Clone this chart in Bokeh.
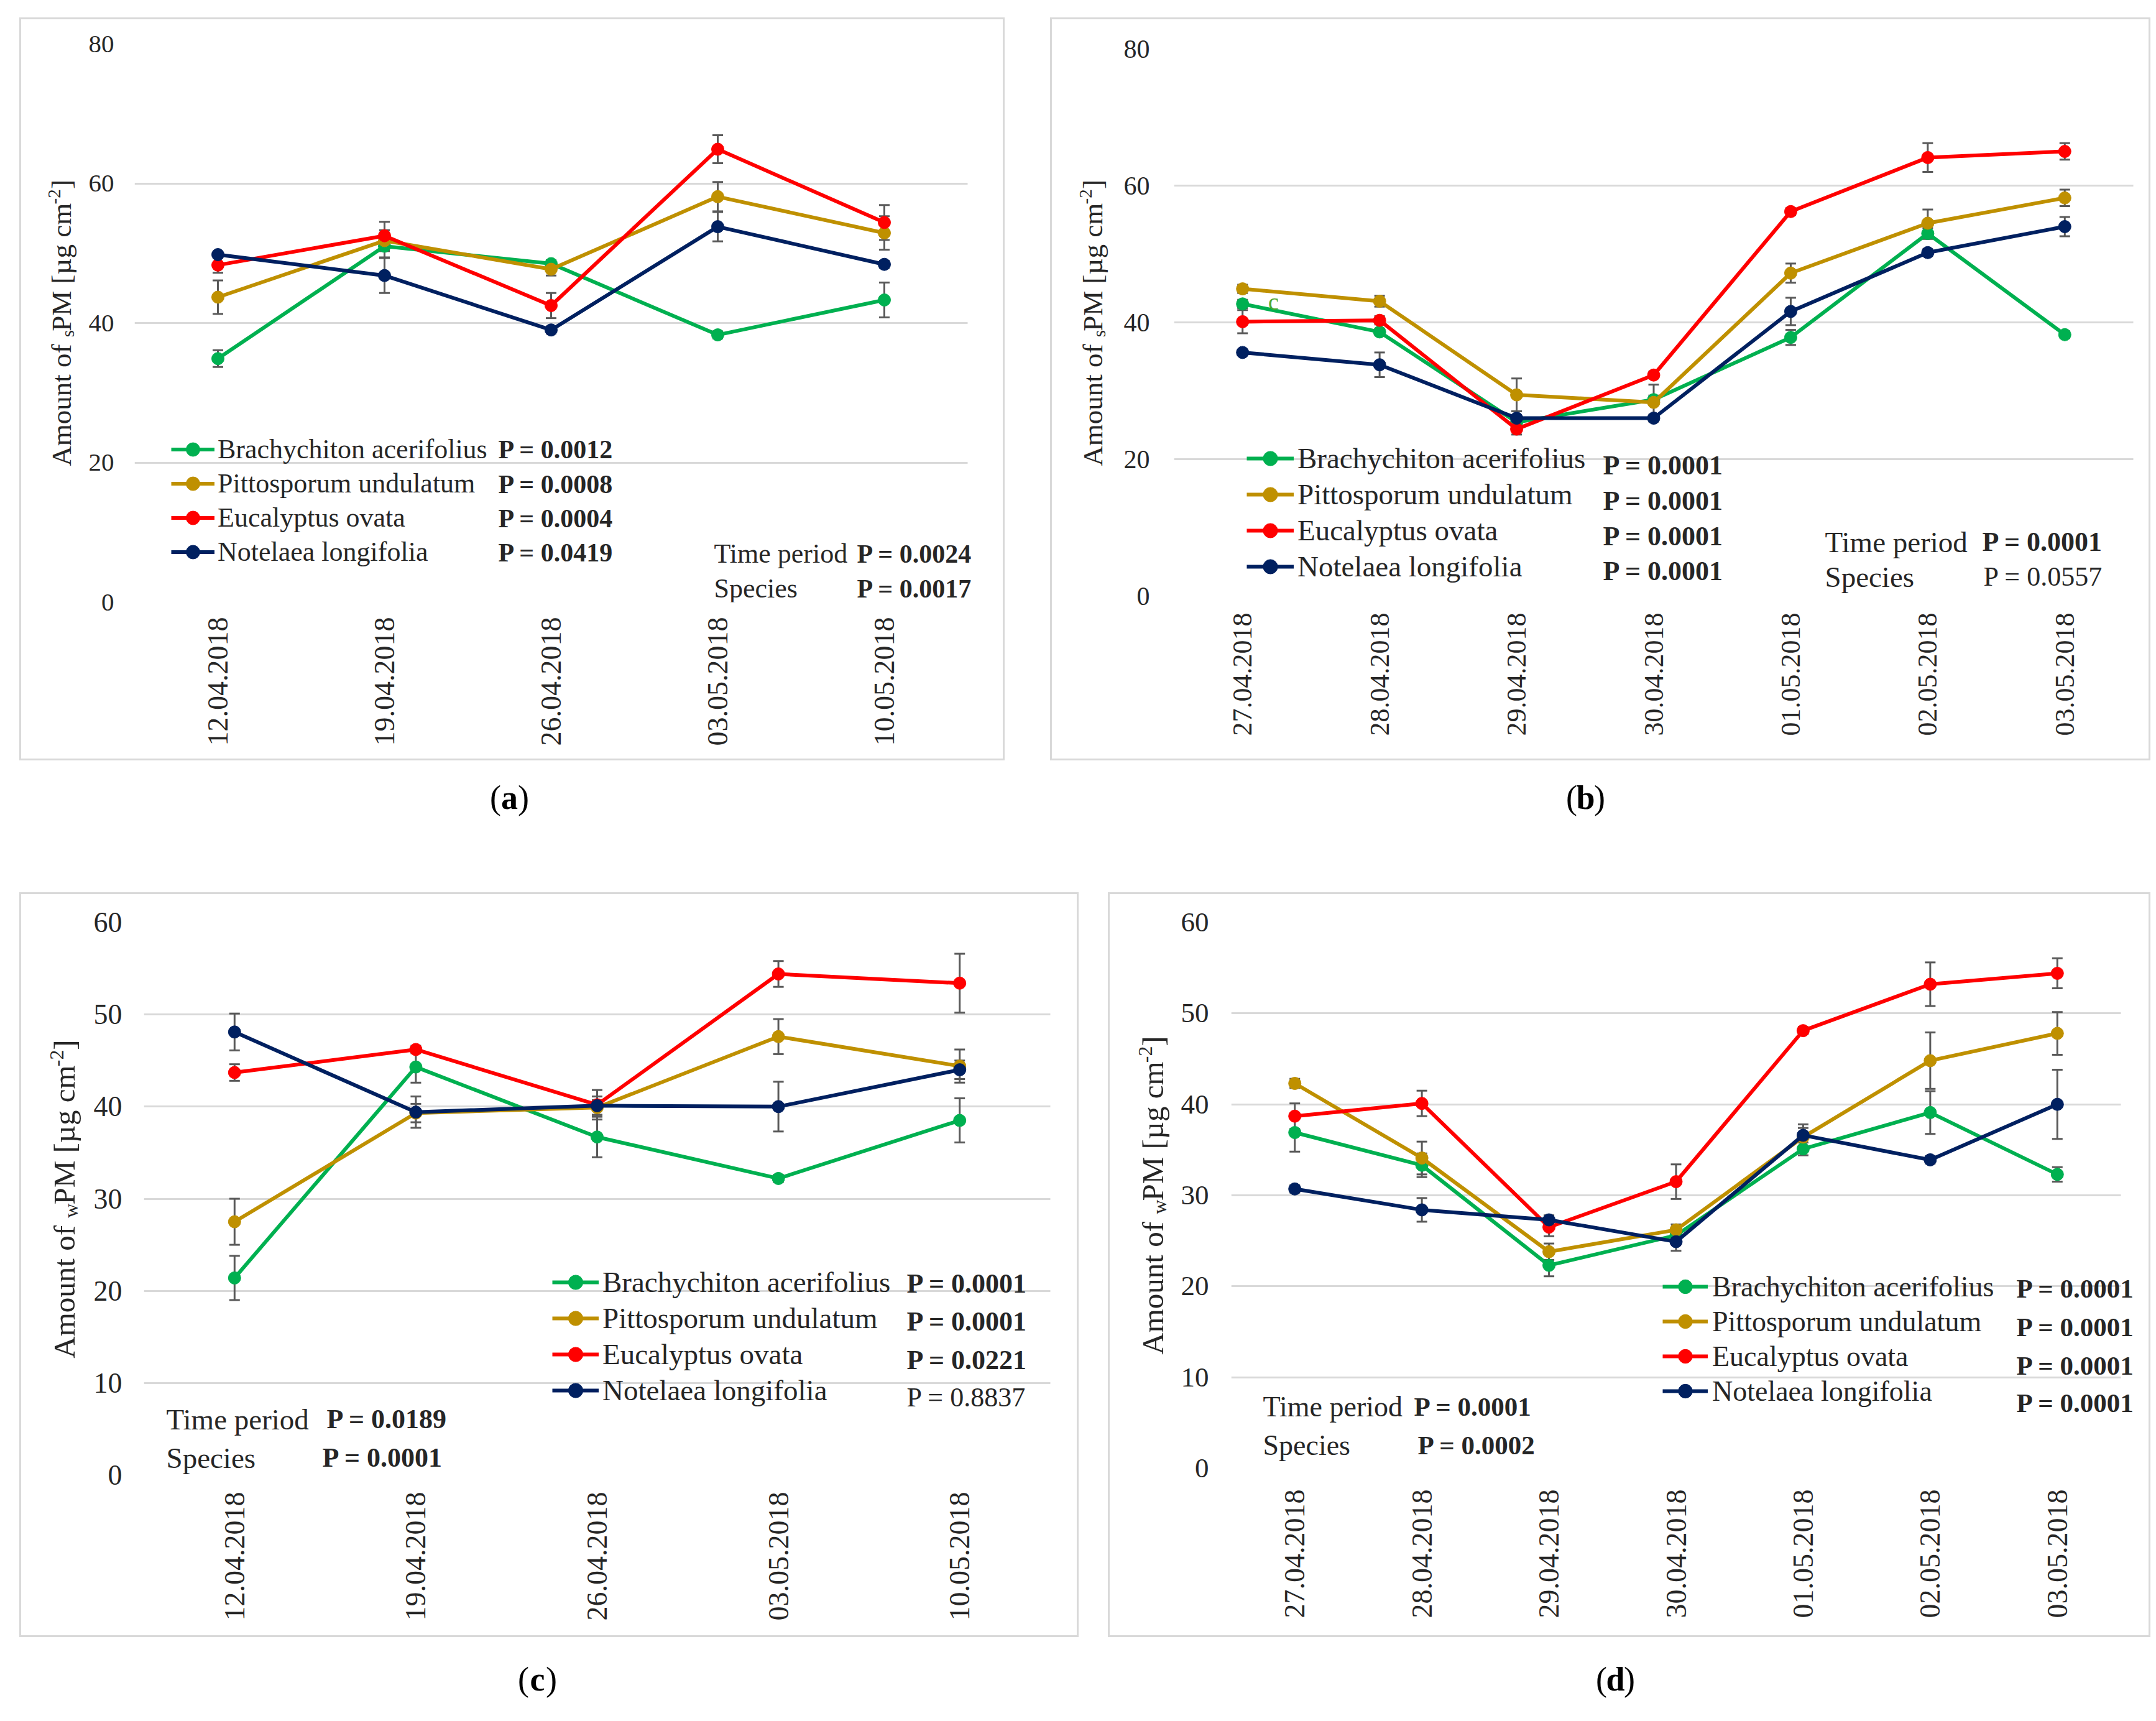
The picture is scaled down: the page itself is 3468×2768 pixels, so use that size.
import math
from bokeh.plotting import figure
from bokeh.models import (FixedTicker, Label, Legend, LegendItem, Whisker, TeeHead,
                          ColumnDataSource, Range1d, Spacer)
from bokeh.layouts import column, row
from bokeh.embed import file_html
from bokeh.resources import INLINE

# ---------------- data ----------------
SPECIES = ["Brachychiton acerifolius", "Pittosporum undulatum", "Eucalyptus ovata", "Notelaea longifolia"]
COLORS = ["#00B050", "#BF9000", "#FF0000", "#002060"]

DATES_WEEKLY = ["12.04.2018", "19.04.2018", "26.04.2018", "03.05.2018", "10.05.2018"]
DATES_DAILY = ["27.04.2018", "28.04.2018", "29.04.2018", "30.04.2018", "01.05.2018", "02.05.2018", "03.05.2018"]

# (a) sPM, weekly
A_BRACHY = [34.9, 51.0, 48.5, 38.3, 43.3]
A_PITTO = [43.7, 51.8, 47.7, 58.1, 52.9]
A_EUCAL = [48.3, 52.5, 42.5, 64.9, 54.4]
A_NOTEL = [49.8, 46.8, 39.0, 53.8, 48.4]
A_BRACHY_ERR = [1.2, 1.6, 0.5, 0.5, 2.5]
A_PITTO_ERR = [2.4, 1.5, 0.9, 2.1, 2.4]
A_EUCAL_ERR = [1.1, 2.0, 1.8, 2.0, 2.5]
A_NOTEL_ERR = [0.4, 2.5, 0.5, 2.1, 0.5]
A_P_SPECIES = ["P = 0.0012", "P = 0.0008", "P = 0.0004", "P = 0.0419"]
A_P_TIME = "P = 0.0024"
A_P_SPEC = "P = 0.0017"

# (b) sPM, daily
B_BRACHY = [42.7, 38.6, 25.4, 28.7, 37.8, 53.0, 38.2]
B_PITTO = [44.9, 43.1, 29.4, 28.3, 47.2, 54.5, 58.2]
B_EUCAL = [40.1, 40.3, 24.4, 32.3, 56.2, 64.1, 65.0]
B_NOTEL = [35.6, 33.8, 26.0, 26.0, 41.6, 50.2, 54.0]
B_BRACHY_ERR = [0.6, 0.5, 0.6, 0.6, 1.1, 0.8, 0.5]
B_PITTO_ERR = [0.6, 0.8, 2.4, 2.6, 1.4, 2.0, 1.2]
B_EUCAL_ERR = [1.7, 0.6, 0.8, 0.5, 0.5, 2.1, 1.2]
B_NOTEL_ERR = [0.4, 1.8, 1.0, 0.5, 2.0, 0.5, 1.4]
B_P_SPECIES = ["P = 0.0001", "P = 0.0001", "P = 0.0001", "P = 0.0001"]
B_P_TIME = "P = 0.0001"
B_P_SPEC = "P = 0.0557"

# (c) wPM, weekly
C_BRACHY = [21.4, 44.3, 36.7, 32.2, 38.5]
C_PITTO = [27.5, 39.3, 39.9, 47.6, 44.4]
C_EUCAL = [43.7, 46.2, 40.2, 54.4, 53.4]
C_NOTEL = [48.1, 39.4, 40.1, 40.0, 44.0]
C_BRACHY_ERR = [2.4, 1.7, 2.2, 0.4, 2.4]
C_PITTO_ERR = [2.5, 1.0, 0.8, 1.9, 1.8]
C_EUCAL_ERR = [0.9, 0.4, 1.6, 1.4, 3.2]
C_NOTEL_ERR = [2.0, 1.7, 1.0, 2.7, 1.0]
C_P_SPECIES = ["P = 0.0001", "P = 0.0001", "P = 0.0221", "P = 0.8837"]
C_P_TIME = "P = 0.0189"
C_P_SPEC = "P = 0.0001"

# (d) wPM, daily
D_BRACHY = [36.9, 33.3, 22.3, 25.6, 35.1, 39.1, 32.3]
D_PITTO = [42.3, 34.1, 23.8, 26.2, 36.4, 44.8, 47.8]
D_EUCAL = [38.7, 40.1, 26.5, 31.5, 48.1, 53.2, 54.4]
D_NOTEL = [30.7, 28.4, 27.3, 24.9, 36.6, 33.9, 40.0]
D_BRACHY_ERR = [2.1, 1.3, 1.2, 0.6, 0.7, 2.35, 0.8]
D_PITTO_ERR = [0.5, 1.8, 0.9, 0.6, 1.0, 3.1, 2.35]
D_EUCAL_ERR = [1.4, 1.4, 1.0, 1.9, 0.4, 2.4, 1.65]
D_NOTEL_ERR = [0.4, 1.3, 0.5, 1.0, 1.2, 0.4, 3.8]
D_P_SPECIES = ["P = 0.0001", "P = 0.0001", "P = 0.0001", "P = 0.0001"]
D_P_TIME = "P = 0.0001"
D_P_SPEC = "P = 0.0002"

# ---------------- style ----------------
FONT = "Liberation Serif"
TXT = "#262626"
ERR = "#595959"
GRID = "#d9d9d9"
OUTLINE = {"outline": "3px solid #d9d9d9", "outline-offset": "-3px"}


def px2x(cfg, px):
    fl, fr, ft, fb = cfg["frame"]
    return 0.5 + (px - fl) / (fr - fl) * cfg["n"]


def py2y(cfg, py):
    fl, fr, ft, fb = cfg["frame"]
    return cfg["ymax"] * (fb - py) / (fb - ft)


def make_panel(cfg):
    x0, y0, x1, y1 = cfg["box"]
    fl, fr, ft, fb = cfg["frame"]
    split = cfg["split"]
    n = len(cfg["dates"])
    cfg["n"] = n
    right = x1 - 4
    x_end = px2x(cfg, right)
    p = figure(frame_width=right - fl, frame_height=fb - ft,
               output_backend="svg", toolbar_location=None,
               x_range=Range1d(0.5, x_end), y_range=Range1d(0, cfg["ymax"]),
               min_border_left=fl - split, min_border_right=x1 - right,
               min_border_top=ft - y0, min_border_bottom=y1 - fb)
    p.outline_line_color = None
    p.border_fill_color = None
    p.background_fill_color = None

    p.xaxis.ticker = FixedTicker(ticks=list(range(1, n + 1)))
    p.xaxis.major_label_overrides = {i + 1: d for i, d in enumerate(cfg["dates"])}
    p.xaxis.major_label_orientation = math.pi / 2
    p.xaxis.major_label_standoff = cfg["xstand"]
    p.xaxis.major_label_text_font_size = f'{cfg["xfs"]}px'
    p.yaxis.ticker = FixedTicker(ticks=list(range(0, cfg["ymax"] + 1, cfg["ystep"])))
    p.yaxis.major_label_standoff = cfg["ystand"]
    p.yaxis.major_label_text_font_size = f'{cfg["yfs"]}px'
    for ax in (p.xaxis[0], p.yaxis[0]):
        ax.axis_line_color = None
        ax.major_tick_line_color = None
        ax.minor_tick_line_color = None
        ax.major_tick_out = 0
        ax.major_tick_in = 0
        ax.minor_tick_out = 0
        ax.minor_tick_in = 0
        ax.major_label_text_font = FONT
        ax.major_label_text_color = TXT
    p.xgrid.visible = False
    p.ygrid.grid_line_color = GRID
    p.ygrid.grid_line_width = 3
    try:
        p.ygrid[0].cross_bounds = (0.5, n + 0.5)
    except Exception:
        pass

    xs = list(range(1, n + 1))
    sources = []
    for vals, errs in zip(cfg["series"], cfg["errs"]):
        src = ColumnDataSource(dict(x=xs, y=vals,
                                    lo=[v - e for v, e in zip(vals, errs)],
                                    hi=[v + e for v, e in zip(vals, errs)]))
        sources.append(src)
        p.add_layout(Whisker(source=src, base="x", lower="lo", upper="hi",
                             line_color=ERR, line_width=3,
                             lower_head=TeeHead(size=17, line_color=ERR, line_width=3),
                             upper_head=TeeHead(size=17, line_color=ERR, line_width=3)))
    items = []
    for k, src in enumerate(sources):
        lr = p.line("x", "y", source=src, line_color=COLORS[k], line_width=6)
        sr = p.scatter("x", "y", source=src, size=20, color=COLORS[k])
        items.append(LegendItem(label=SPECIES[k], renderers=[lr, sr]))

    lc = cfg["legend"]
    pitch = lc["pitch"]
    top = lc["row0"] - pitch / 2
    bottom = top + 4 * pitch
    leg = Legend(items=items, location=(lc["x"] - fl, fb - bottom), orientation="vertical",
                 glyph_width=lc["gw"], glyph_height=pitch, label_height=pitch, spacing=0,
                 padding=0, margin=0, label_standoff=lc["stand"], border_line_color=None,
                 background_fill_alpha=0, label_text_font=FONT,
                 label_text_font_size=f'{cfg["lfs"]}px', label_text_color=TXT)
    p.add_layout(leg)

    fs = f'{cfg["lfs"]}px'
    pfs = f'{round(cfg["lfs"] * cfg.get("pscale", 0.93))}px'
    for k, txt in enumerate(cfg["p_species"]):
        p.add_layout(Label(x=px2x(cfg, lc["px"]), y=py2y(cfg, lc["prows"][k]), text=txt,
                           text_font=FONT, text_font_size=pfs, text_color=TXT,
                           text_font_style="bold" if cfg["p_bold"][k] else "normal",
                           text_align="left", text_baseline="middle"))
    for txt, sx, sy, bold in cfg["stats"]:
        p.add_layout(Label(x=px2x(cfg, sx), y=py2y(cfg, sy), text=txt,
                           text_font=FONT, text_font_size=pfs if txt.startswith("P") else fs,
                           text_color=TXT, text_font_style="bold" if bold else "normal",
                           text_align="left", text_baseline="middle"))
    for txt, sx, sy, size, color in cfg.get("extra", []):
        p.add_layout(Label(x=px2x(cfg, sx), y=py2y(cfg, sy), text=txt, text_font=FONT,
                           text_font_size=f"{size}px", text_color=color,
                           text_align="center", text_baseline="middle"))

    # y-axis title (with subscript and superscript) in its own strip.
    # Its frame is aligned with the main frame by the row, so map the same vertical span.
    tw, th = split - x0, y1 - y0
    t = figure(width=tw, height=th, output_backend="svg", toolbar_location=None,
               x_range=Range1d(0, tw), y_range=Range1d(y1 - fb, y1 - ft),
               x_axis_type=None, y_axis_type=None,
               min_border_left=0, min_border_right=0,
               min_border_top=ft - y0, min_border_bottom=y1 - fb)
    t.outline_line_color = None
    t.border_fill_color = None
    t.background_fill_color = None
    F = cfg["tfs"]
    small = 0.65
    wsub = {"s": 0.389, "w": 0.722}[cfg["sub"]]
    pieces = [("Amount of", F, 0.0, 4.611 * F, 4.361 * F),
              (cfg["sub"], F * small, 0.12 * F, wsub * F * small, wsub * F * small),
              ("PM [µg cm", F, 0.0, 4.5 * F, 4.5 * F),
              ("-2", F * small, -0.36 * F, 0.833 * F * small, 0.833 * F * small),
              ("]", F, 0.0, 0.333 * F, 0.333 * F)]
    total = sum(pc[3] for pc in pieces)
    s = cfg["title_cy"] + total / 2
    for txt, size, shift, adv, ink in pieces:
        cy = s - ink / 2
        cx = cfg["title_bx"] + shift - 0.33 * size
        t.add_layout(Label(x=cx - x0, y=y1 - cy, text=txt,
                           angle=math.pi / 2, text_font=FONT, text_font_size=f"{size:.1f}px",
                           text_color=TXT, text_align="center", text_baseline="middle"))
        s -= adv

    r = row(t, p)
    r.styles = OUTLINE
    return r


cfg_a = dict(box=(33, 30, 1618, 1225), frame=(218, 1558, 72, 970), split=130, dates=DATES_WEEKLY,
             ymax=80, ystep=20, xfs=46, yfs=41, xstand=24, ystand=33, lfs=44, tfs=45, pscale=0.96,
             series=[A_BRACHY, A_PITTO, A_EUCAL, A_NOTEL],
             errs=[A_BRACHY_ERR, A_PITTO_ERR, A_EUCAL_ERR, A_NOTEL_ERR],
             legend=dict(x=277, row0=724, pitch=55, gw=70, stand=5, px=803,
                         prows=[724, 780, 835, 890]),
             p_species=A_P_SPECIES, p_bold=[True, True, True, True],
             stats=[("Time period", 1150, 892, False), (A_P_TIME, 1380, 892, True),
                    ("Species", 1150, 948, False), (A_P_SPEC, 1380, 948, True)],
             sub="s", title_bx=115, title_cy=521)

cfg_b = dict(box=(1691, 30, 3461, 1225), frame=(1890, 3433, 80, 960), split=1792, dates=DATES_DAILY,
             ymax=80, ystep=20, xfs=44, yfs=42, xstand=27, ystand=39, lfs=47, tfs=45,
             series=[B_BRACHY, B_PITTO, B_EUCAL, B_NOTEL],
             errs=[B_BRACHY_ERR, B_PITTO_ERR, B_EUCAL_ERR, B_NOTEL_ERR],
             legend=dict(x=2007, row0=739, pitch=58, gw=76, stand=6, px=2580,
                         prows=[750, 807, 864, 920]),
             p_species=B_P_SPECIES, p_bold=[True, True, True, True],
             stats=[("Time period", 2937, 873, False), (B_P_TIME, 3190, 873, True),
                    ("Species", 2937, 929, False), (B_P_SPEC, 3192, 929, False)],
             sub="s", title_bx=1774, title_cy=521,
             extra=[("c", 2050, 486, 38, "#4EA72E")])

cfg_c = dict(box=(33, 1437, 1737, 2635), frame=(233, 1691, 1485, 2374), split=139, dates=DATES_WEEKLY,
             ymax=60, ystep=10, xfs=46, yfs=46, xstand=27, ystand=35, lfs=47, tfs=49,
             series=[C_BRACHY, C_PITTO, C_EUCAL, C_NOTEL],
             errs=[C_BRACHY_ERR, C_PITTO_ERR, C_EUCAL_ERR, C_NOTEL_ERR],
             legend=dict(x=890, row0=2064, pitch=58, gw=75, stand=6, px=1460,
                         prows=[2066, 2127, 2189, 2249]),
             p_species=C_P_SPECIES, p_bold=[True, True, True, False],
             stats=[("Time period", 269, 2284, False), (C_P_TIME, 527, 2284, True),
                    ("Species", 269, 2346, False), (C_P_SPEC, 520, 2346, True)],
             sub="w", title_bx=121, title_cy=1930)

cfg_d = dict(box=(1784, 1437, 3461, 2635), frame=(1982, 3413, 1485, 2363), split=1889, dates=DATES_DAILY,
             ymax=60, ystep=10, xfs=46, yfs=45, xstand=34, ystand=36, lfs=46, tfs=49,
             series=[D_BRACHY, D_PITTO, D_EUCAL, D_NOTEL],
             errs=[D_BRACHY_ERR, D_PITTO_ERR, D_EUCAL_ERR, D_NOTEL_ERR],
             legend=dict(x=2676, row0=2071, pitch=56, gw=73, stand=7, px=3245,
                         prows=[2074, 2136, 2198, 2258]),
             p_species=D_P_SPECIES, p_bold=[True, True, True, True],
             stats=[("Time period", 2033, 2264, False), (D_P_TIME, 2276, 2264, True),
                    ("Species", 2033, 2326, False), (D_P_SPEC, 2282, 2326, True)],
             sub="w", title_bx=1872, title_cy=1924)

pa = make_panel(cfg_a)
pb = make_panel(cfg_b)
pc = make_panel(cfg_c)
pd = make_panel(cfg_d)

LF = 54


def make_letters(width, height, row_top, items):
    p = figure(width=width, height=height, output_backend="svg", toolbar_location=None,
               x_range=Range1d(0, width), y_range=Range1d(0, height),
               x_axis_type=None, y_axis_type=None, min_border=0)
    p.outline_line_color = None
    p.border_fill_color = None
    p.background_fill_color = None
    for letter, cx, cy in items:
        x = cx - 2
        y = height - (cy - row_top + 0.255 * LF)
        p.add_layout(Label(x=x - 13.5, y=y, text="(", text_font=FONT, text_font_size=f"{LF}px",
                           text_color="black", text_align="right", text_baseline="alphabetic"))
        p.add_layout(Label(x=x, y=y, text=letter, text_font=FONT, text_font_size=f"{LF}px",
                           text_font_style="bold", text_color="black", text_align="center",
                           text_baseline="alphabetic"))
        p.add_layout(Label(x=x + 13.5, y=y, text=")", text_font=FONT, text_font_size=f"{LF}px",
                           text_color="black", text_align="left", text_baseline="alphabetic"))
    return p


lab1 = make_letters(3459, 212, 1225, [("a", 821, 1271), ("b", 2552, 1271)])
lab2 = make_letters(3459, 125, 2635, [("c", 866, 2689), ("d", 2600, 2689)])

layout = column(
    Spacer(height=28),
    row(Spacer(width=31), pa, Spacer(width=73), pb),
    lab1,
    row(Spacer(width=31), pc, Spacer(width=47), pd),
    lab2,
)

open("out.html", "w").write(file_html(layout, INLINE))
